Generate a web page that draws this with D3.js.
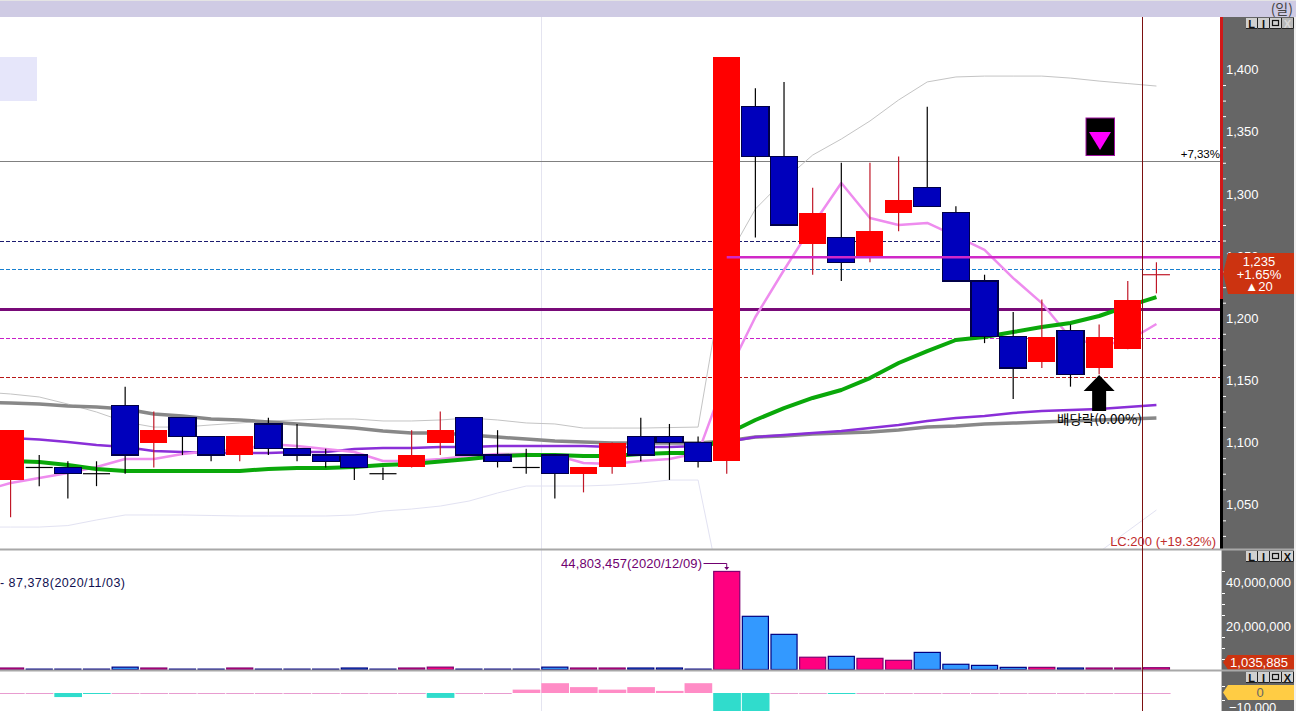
<!DOCTYPE html>
<html>
<head>
<meta charset="utf-8">
<script src="https://cdn.jsdelivr.net/npm/d3@7/dist/d3.min.js"></script>
<style>
html,body{margin:0;padding:0;background:#fff;overflow:hidden}
svg{display:block}
text{font-family:"Liberation Sans",Arial,sans-serif;font-size:13px}
</style>
</head>
<body>
<svg id="c" width="1296" height="711"></svg>
<script>
// ---------- data ----------
const sessions = d3.range(41);
const opens  = [1070,1080,1080,1075,1130,1100,1120,1105,1090,1115,1095,1090,1090,1075,1080,1100,1120,1090,1080,1090,1075,1080,1105,1105,1100,1085,1370,1330,1260,1265,1250,1285,1305,1285,1230,1185,1165,1190,1160,1175,1235];
const highs  = [1110,1090,1085,1085,1145,1125,1120,1105,1105,1120,1115,1095,1090,1080,1110,1125,1120,1110,1095,1090,1080,1100,1120,1115,1105,1410,1385,1390,1305,1325,1325,1330,1370,1290,1235,1205,1215,1195,1195,1230,1245];
const lows   = [1040,1065,1055,1065,1075,1080,1090,1085,1085,1090,1085,1080,1070,1070,1080,1090,1090,1080,1075,1055,1060,1075,1085,1070,1080,1075,1265,1275,1235,1230,1245,1270,1290,1230,1180,1135,1160,1145,1155,1175,1220];
const closes = [1110,1080,1075,1075,1090,1110,1105,1090,1105,1095,1090,1085,1080,1075,1090,1110,1090,1085,1080,1075,1080,1100,1090,1100,1085,1410,1330,1275,1285,1245,1270,1295,1290,1230,1185,1160,1185,1155,1185,1215,1235];

// line series start one session before the first visible candle (cut by the left edge)
const ma5  = [1061,1067.5,1071.5,1075.6,1080.4,1086.8,1086.8,1090.8,1093.2,1094,1098.9,1097.3,1094.9,1092.4,1085.2,1085.2,1086.8,1089.2,1090.8,1090.8,1090,1083.6,1082.8,1085.2,1086.8,1091.6,1154.3,1201,1238.8,1275,1308.7,1280.6,1275,1276.6,1266,1254.9,1232.3,1212.2,1184.1,1178.5,1181.7,1195.4];
const ma20 = [1086.8,1085.2,1084.4,1082,1078.8,1077.2,1077.2,1077.2,1077.2,1077.2,1078.8,1079.6,1079.6,1080.4,1082,1082.8,1084.8,1086.8,1089.2,1090,1090,1089.2,1089.2,1090.8,1091.6,1091.6,1106.9,1118.2,1127.8,1135.9,1142.3,1151.9,1164,1173.6,1182.5,1184.9,1188.9,1192.9,1196.2,1201.8,1209.8,1217];
const ma60 = [1105.3,1103.7,1102.5,1100.5,1098.1,1096.5,1093.2,1092.4,1091.6,1091.6,1091.6,1092.4,1092.4,1094.9,1095.7,1095.7,1096.5,1096.5,1097.3,1097.3,1097.3,1097.3,1096.5,1096.5,1096.5,1097.3,1100.5,1104.5,1106.1,1107.7,1109.3,1111.7,1114.2,1117.4,1119.8,1121.4,1123.8,1125.4,1126.2,1127,1128.6,1130.2];
const ma120= [1132.6,1131.8,1131,1129.4,1128.6,1127,1123,1121.4,1119,1118.2,1116.6,1115,1113.3,1111.7,1109.3,1107.7,1107.7,1106.1,1104.5,1102.9,1101.3,1100.5,1099.7,1099.7,1099.7,1099.7,1101.3,1104.5,1105.3,1106.9,1107.7,1108.5,1110.1,1112.5,1113.3,1114.9,1115.7,1116.6,1117.4,1118.2,1119,1119.8];
const bandUpper = [1140.7,1139.1,1136.7,1131,1124.6,1116.6,1112.5,1112.5,1114.2,1115.8,1117.4,1118.2,1119,1119,1117.4,1117.4,1118.2,1119.8,1118.2,1115.8,1115,1111.7,1111.7,1111.7,1112.1,1112.5,1246.8,1287.8,1311.1,1331.2,1344.1,1358.6,1375.5,1390,1394,1394.7,1394.7,1394.7,1393.1,1390.7,1388.7,1386.7];
const bandLower = [1032.1,1032.1,1032.1,1033.3,1037.8,1041.8,1041.8,1041.8,1041.4,1041,1041,1041,1041,1041.8,1045,1046.6,1049,1053,1059.5,1065.1,1065.1,1065.1,1065.9,1067.5,1069.9,1069.9,957.4,null,null,null,null,null,null,null,null,null,null,null,null,1012,1028.9,1045.8];

const volumes = [900000,400000,400000,400000,1300000,900000,400000,400000,900000,400000,400000,400000,900000,400000,900000,1300000,400000,400000,400000,1300000,900000,900000,900000,900000,400000,44803457,24400000,16200000,5800000,6200000,5300000,4400000,8000000,2600000,2100000,1200000,1200000,900000,900000,900000,1035885];
const lowerOsc = [0,0,-2900,-100,0,0,0,0,0,0,0,0,0,0,0,-3500,0,0,2400,7000,4200,2400,4200,1500,7000,-22000,-22000,0,0,-100,0,0,0,0,0,0,0,0,0,0,0];

const priceMajors = [1050,1100,1150,1200,1250,1300,1350,1400];
const volumeMajors = [20000000,40000000];
const oscMajors = [-10000];

// horizontal reference levels
const levelGray = 1326, levelNavy = 1262, levelBlue = 1239, levelMagenta = 1249, levelPurple = 1207, levelPink = 1184, levelRed = 1152;

// ---------- scales ----------
const xDomain = [-1].concat(sessions);
const step = 28.65;
const x = d3.scaleBand().domain(xDomain).range([-3.82-step,1170.82]).paddingInner(0.055).paddingOuter(0.03);
const cx = i => x(i) + x.bandwidth()/2;
const y = d3.scaleLinear().domain([1050,1400]).range([504.8,69.5]);
const yV = d3.scaleLinear().domain([0,40000000]).range([670,582]);
const yO = d3.scaleLinear().domain([-10000,0]).range([707,693]);
const snap = v => Math.round(v-.5)+.5;

const svg = d3.select("#c");
svg.append("rect").attr("width",1296).attr("height",711).attr("fill","#fff");
const defs = svg.append("defs");
defs.append("clipPath").attr("id","cMain").append("rect").attr("x",0).attr("y",17).attr("width",1221).attr("height",532);
defs.append("clipPath").attr("id","cVol").append("rect").attr("x",0).attr("y",550).attr("width",1221).attr("height",120);
defs.append("clipPath").attr("id","cOsc").append("rect").attr("x",0).attr("y",672).attr("width",1221).attr("height",39);

// ---------- backgrounds ----------
svg.append("rect").attr("x",0).attr("y",0).attr("width",1296).attr("height",17).attr("fill","#cfcbe4");
svg.append("rect").attr("x",0).attr("y",0).attr("width",1296).attr("height",1).attr("fill","#e4e4e4");
svg.append("rect").attr("x",0).attr("y",57).attr("width",37).attr("height",44).attr("fill","#e6e6fa");

// vertical guide behind the marks
svg.append("line").attr("x1",541.5).attr("x2",541.5).attr("y1",17).attr("y2",711).attr("stroke","#e4e4f0");

const main = svg.append("g").attr("clip-path","url(#cMain)");

function hline(level,color,width,dash){
  main.append("line").attr("x1",0).attr("x2",1221)
    .attr("y1",snap(y(level))).attr("y2",snap(y(level)))
    .attr("stroke",color).attr("stroke-width",width).attr("stroke-dasharray",dash||null);
}
hline(levelGray,"#808080",1);
hline(levelNavy,"#1c1c70",1,"4,2");
hline(levelBlue,"#1880d0",1,"4,2");
hline(levelPurple,"#780a78",3);
hline(levelPink,"#c820c8",1,"4,2");
hline(levelRed,"#b81818",1,"4,2");

const line = d3.line().defined(d=>d!=null).x((d,i)=>cx(i-1)).y(d=>y(d));
function series(vals,color,width){
  main.append("path").attr("d",line(vals)).attr("fill","none")
    .attr("stroke",color).attr("stroke-width",width).attr("stroke-linejoin","round");
}
series(bandUpper,"#c4c4c4",1);
series(bandLower,"#e2e2f2",1);
series(ma120,"#888888",3.5);
series(ma60,"#8a2fd8",2.5);
series(ma5,"#ee8cee",2.5);
series(ma20,"#0aa80a",4);

// ---------- candles ----------
const candles = sessions.map(i=>({i,o:opens[i],h:highs[i],l:lows[i],c:closes[i],
  up: closes[i]>opens[i] || (closes[i]===opens[i] && i>0 && closes[i]>closes[i-1])}));
const gc = main.append("g");
gc.selectAll("line.w").data(candles).join("line").attr("class","w")
  .attr("x1",d=>cx(d.i)).attr("x2",d=>cx(d.i)).attr("y1",d=>y(d.h)).attr("y2",d=>y(d.l))
  .attr("stroke",d=>d.up?"#c01828":"#000").attr("stroke-width",1.2);
gc.selectAll("rect.b").data(candles.filter(d=>d.o!==d.c)).join("rect").attr("class","b")
  .attr("x",d=>x(d.i)).attr("width",x.bandwidth())
  .attr("y",d=>y(Math.max(d.o,d.c))).attr("height",d=>Math.abs(y(d.o)-y(d.c)))
  .attr("fill",d=>d.up?"#ff0000":"#0000bc")
  .attr("stroke",d=>d.up?"none":"#000048").attr("stroke-width",1.2)
  .attr("shape-rendering","crispEdges");
gc.selectAll("line.d").data(candles.filter(d=>d.o===d.c)).join("line").attr("class","d")
  .attr("x1",d=>x(d.i)).attr("x2",d=>x(d.i)+x.bandwidth())
  .attr("y1",d=>y(d.c)).attr("y2",d=>y(d.c))
  .attr("stroke",d=>d.up?"#c01828":"#000").attr("stroke-width",1.2);

// magenta level sits above the candles
main.append("line").attr("x1",cx(25)).attr("x2",1221).attr("y1",y(levelMagenta)).attr("y2",y(levelMagenta))
  .attr("stroke","#d028c8").attr("stroke-width",2.5);

// ---------- volume ----------
const vol = svg.append("g").attr("clip-path","url(#cVol)");
vol.selectAll("rect").data(candles).join("rect")
  .attr("x",d=>x(d.i)+.5).attr("width",x.bandwidth()-1)
  .attr("y",d=>yV(volumes[d.i])).attr("height",d=>Math.max(0.5,yV(0)-yV(volumes[d.i])-.5))
  .attr("fill",d=>d.up?"#ff0080":"#3399ff")
  .attr("stroke",d=>d.up?"#800070":"#000080").attr("stroke-width",1.2);

// ---------- lower oscillator ----------
const osc = svg.append("g").attr("clip-path","url(#cOsc)");
osc.selectAll("rect").data(candles).join("rect")
  .attr("x",d=>x(d.i)).attr("width",x.bandwidth()+.6)
  .attr("y",d=>lowerOsc[d.i]>0?yO(lowerOsc[d.i]):yO(0))
  .attr("height",d=>Math.max(1,Math.abs(yO(lowerOsc[d.i])-yO(0))))
  .attr("fill",d=>lowerOsc[d.i]>0?"#ff8cc6":lowerOsc[d.i]<0?"#30dccc":"#e89cd0");

// ---------- right axes ----------
svg.append("rect").attr("x",1221).attr("y",17).attr("width",73).attr("height",694).attr("fill","#666666");
svg.append("rect").attr("x",1294).attr("y",17).attr("width",2).attr("height",694).attr("fill","#f0f0f0");
svg.append("rect").attr("x",1220).attr("y",17).attr("width",3).attr("height",282).attr("fill","#d01818");
svg.append("rect").attr("x",1220).attr("y",299).attr("width",3).attr("height",250).attr("fill","#000");
svg.append("rect").attr("x",1221).attr("y",549).attr("width",1).attr("height",162).attr("fill","#bdbdbd");

function rightAxis(scale,values,majors,fmt,x0,pad){
  const a = d3.axisRight(scale).tickValues(values).tickSize(3).tickPadding(pad)
    .tickFormat(d=>majors.includes(d)?fmt(d):"");
  const g = svg.append("g").attr("transform",`translate(${x0},0)`).call(a);
  g.select(".domain").remove();
  g.selectAll(".tick line").attr("stroke",d=>majors.includes(d)?"none":"#fff");
  g.selectAll(".tick text").attr("fill","#fff").style("font-family",'"Liberation Sans",Arial,sans-serif').style("font-size","13px");
  return g;
}
const comma = d3.format(",");
rightAxis(y,d3.range(1025,1400.1,12.5),priceMajors,comma,1223,0);
rightAxis(yV,d3.range(5000000,45000001,5000000),volumeMajors,comma,1222,1);
rightAxis(yO,[5000,-5000,-10000],oscMajors,comma,1222,4);

// ---------- value tags ----------
function tag(top,bottom,fill){
  const mid=(top+bottom)/2;
  svg.append("path").attr("d",d3.line()([[1223,mid],[1228,top],[1294,top],[1294,bottom],[1228,bottom]])+"Z").attr("fill",fill);
}
tag(253,294,"#cc3310");
[["1,235",265.5],["+1.65%",278.5],["▲20",291]].forEach(([t,b])=>
  svg.append("text").attr("x",1259).attr("y",b).attr("text-anchor","middle").attr("fill","#fff").text(t));
tag(655,669.5,"#cc3310");
svg.append("text").attr("x",1259).attr("y",667).attr("text-anchor","middle").attr("fill","#fff").text(comma(volumes[40]));
tag(685,700,"#ffcc44");
svg.append("text").attr("x",1260).attr("y",697).attr("text-anchor","middle").attr("fill","#666").text("0");

// panel separators
[549.5,670.5].forEach(v=>svg.append("rect").attr("x",0).attr("y",v-1).attr("width",1294).attr("height",2).attr("fill","#a8a8a8"));

// cursor line
svg.append("line").attr("x1",1142.5).attr("x2",1142.5).attr("y1",17).attr("y2",711).attr("stroke","#7c1010").attr("stroke-width",1);

// ---------- buttons ----------
function buttons(top,lastOff){
  ["L","I","","X"].forEach((t,k)=>{
    const bx=1246+k*12;
    const off=lastOff&&k===3;
    svg.append("rect").attr("x",bx).attr("y",top).attr("width",12).attr("height",11).attr("fill",off?"#b8b8b8":"#d0d0d0");
    svg.append("path").attr("d",`M${bx},${top+10.5}H${bx+11.5}V${top}`).attr("fill","none").attr("stroke","#222");
    if(t) svg.append("text").attr("x",bx+5.5).attr("y",top+9.5).attr("text-anchor","middle")
      .attr("fill",off?"#d8d8d8":"#111").style("font-size","11px").style("font-weight","bold").text(t);
    else svg.append("rect").attr("x",bx+2.5).attr("y",top+2.5).attr("width",6).attr("height",5).attr("fill","none").attr("stroke","#111").attr("stroke-width",1.2);
  });
}
buttons(18,true); buttons(551,false); buttons(672,false);

// ---------- annotations ----------
svg.append("text").attr("x",1293).attr("y",14).attr("text-anchor","end").attr("fill","#444")
  .style("font-family",'"Noto Sans CJK KR"').style("font-size","14px").text("(일)");
svg.append("text").attr("x",1220).attr("y",157.5).attr("text-anchor","end").attr("fill","#000").style("font-size","11.5px").text("+7,33%");
svg.append("text").attr("x",1216).attr("y",546).attr("text-anchor","end").attr("fill","#c02c2c").text("LC:200 (+19.32%)");
svg.append("text").attr("x",0).attr("y",587).attr("textLength",125).attr("fill","#101050").style("font-size","12.5px").text("- 87,378(2020/11/03)");
svg.append("text").attr("x",561).attr("y",568).attr("textLength",141).attr("fill","#700070").style("font-size","13px").text("44,803,457(2020/12/09)");
svg.append("path").attr("d",`M703.5,563.5H${cx(25)}V569`).attr("fill","none").attr("stroke","#700070");
svg.append("path").attr("d",d3.line()([[cx(25)-2.5,567],[cx(25)+2.5,567],[cx(25),570]])+"Z").attr("fill","#700070");

// sell marker box
svg.append("rect").attr("x",1086).attr("y",118).attr("width",28.5).attr("height",37.5).attr("fill","#000").attr("stroke","#a010a0");
svg.append("path").attr("d",d3.line()([[1089,132],[1111,132],[1100,150]])+"Z").attr("fill","#ff00ff");

// dividend arrow
const ax = cx(38);
svg.append("path").attr("d",d3.line()([[ax,375],[ax+15.5,391],[ax+7,391],[ax+7,411],[ax-7,411],[ax-7,391],[ax-15.5,391]])+"Z").attr("fill","#000");
svg.append("text").attr("x",1057).attr("y",424).attr("textLength",85).attr("lengthAdjust","spacingAndGlyphs").attr("fill","#000")
  .style("font-family",'"Noto Sans CJK KR"').style("font-size","13px").text("배당락(0.00%)");
</script>
</body>
</html>
